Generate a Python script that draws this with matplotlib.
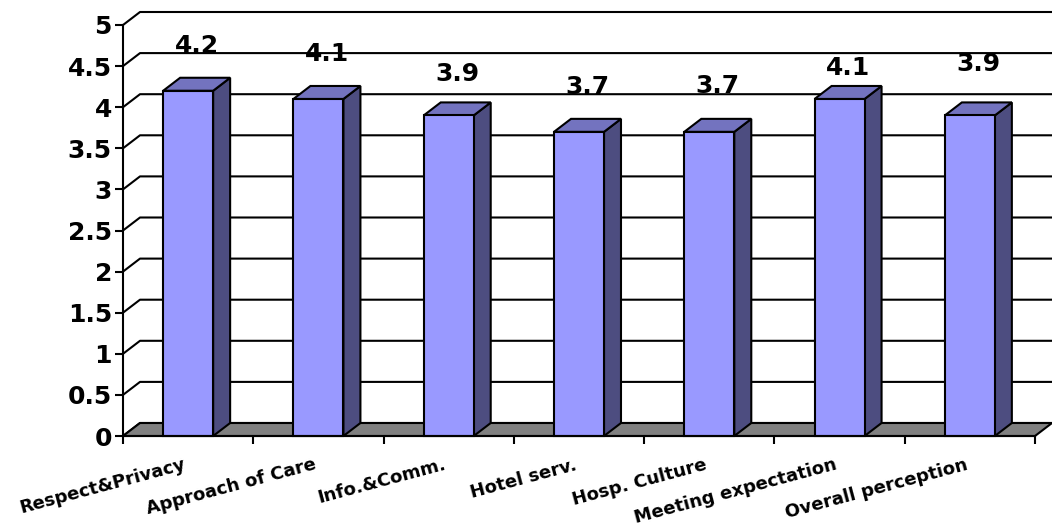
import matplotlib
matplotlib.use("Agg")
import matplotlib.pyplot as plt
from matplotlib.patches import Polygon, Rectangle

categories = ["Respect&Privacy", "Approach of Care", "Info.&Comm.", "Hotel serv.",
              "Hosp. Culture", "Meeting expectation", "Overall perception"]
scores = [4.2, 4.1, 3.9, 3.7, 3.7, 4.1, 3.9]
y_ticks = [0, 0.5, 1, 1.5, 2, 2.5, 3, 3.5, 4, 4.5, 5]
y_tick_labels = ["0", "0.5", "1", "1.5", "2", "2.5", "3", "3.5", "4", "4.5", "5"]

# how far each value label sits above its bar (value units), Excel put them a bit unevenly
label_lift = [0.55, 0.55, 0.50, 0.55, 0.56, 0.38, 0.62]

front = "#9999FF"
side = "#4D4D80"
top = "#7373BF"
floor = "#808080"

plt.rcParams["font.family"] = "DejaVu Sans"
plt.rcParams["font.weight"] = "bold"

fig = plt.figure(figsize=(10.52, 5.26), dpi=100)
ax = fig.add_axes([123 / 1052, 90 / 526, 912 / 1052, 411 / 526])
n = len(categories)
ax.set_xlim(0, n)
ax.set_ylim(0, 5)

# fake 3d depth of the walls (in data units)
dx = 17 / 130.3
dy = 13 / 82.2
lw = 1.5

for s in ["top", "right"]:
    ax.spines[s].set_visible(False)
for s in ["left", "bottom"]:
    ax.spines[s].set_linewidth(lw)
    ax.spines[s].set_zorder(5)

# back wall gridlines + side wall diagonals
for y in y_ticks:
    ax.plot([0, dx, n + dx], [y, y + dy, y + dy], color="black", lw=lw,
            clip_on=False, zorder=1, solid_capstyle="butt")

# floor
ax.add_patch(Polygon([(0, 0), (n, 0), (n + dx, dy), (dx, dy)], closed=True,
                     facecolor=floor, edgecolor="black", lw=lw, clip_on=False, zorder=2))

w = 50 / 130.3
for i, v in enumerate(scores):
    x0 = i + 0.5 - w / 2
    x1 = x0 + w
    ax.add_patch(Polygon([(x1, 0), (x1 + dx, dy), (x1 + dx, v + dy), (x1, v)], closed=True,
                         facecolor=side, edgecolor="black", lw=lw, clip_on=False, zorder=3))
    ax.add_patch(Polygon([(x0, v), (x0 + dx, v + dy), (x1 + dx, v + dy), (x1, v)], closed=True,
                         facecolor=top, edgecolor="black", lw=lw, clip_on=False, zorder=3))
    ax.add_patch(Rectangle((x0, 0), w, v, facecolor=front, edgecolor="black", lw=lw,
                           clip_on=False, zorder=4))
    ax.text(i + 0.5 + 0.065, v + label_lift[i], f"{v}", ha="center", va="center",
            fontsize=18, fontweight="bold", zorder=6)
    ax.text(i + 0.5 - 0.04, -0.24, categories[i], ha="right", va="top", rotation=15,
            rotation_mode="anchor", fontsize=13, fontweight="bold")

ax.set_yticks(y_ticks)
ax.set_yticklabels(y_tick_labels, fontsize=18, fontweight="bold")
ax.set_xticks(range(n + 1))
ax.set_xticklabels([])
ax.tick_params(axis="both", length=6, width=lw, direction="out", pad=2)

fig.savefig("out.png", dpi=100, facecolor="white")
